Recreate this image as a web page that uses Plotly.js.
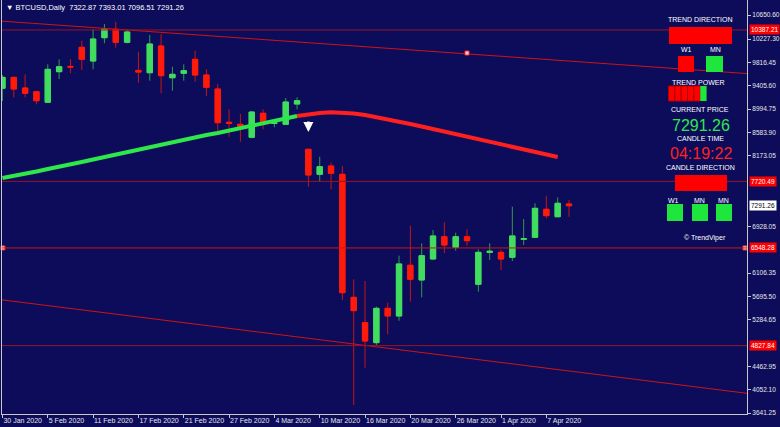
<!DOCTYPE html>
<html><head><meta charset="utf-8">
<script src="https://cdn.plot.ly/plotly-3.0.1.min.js"></script>
<style>html,body{margin:0;padding:0;background:#0c0c5a;}#chart{width:780px;height:427px;}</style>
</head><body><div id="chart"></div>
<script>
// ---- data ----
const dates = ["30 Jan 2020","31 Jan 2020","3 Feb 2020","4 Feb 2020","5 Feb 2020","6 Feb 2020","7 Feb 2020",
"10 Feb 2020","11 Feb 2020","12 Feb 2020","13 Feb 2020","14 Feb 2020","17 Feb 2020","18 Feb 2020","19 Feb 2020",
"20 Feb 2020","21 Feb 2020","24 Feb 2020","25 Feb 2020","26 Feb 2020","27 Feb 2020","28 Feb 2020","2 Mar 2020",
"3 Mar 2020","4 Mar 2020","5 Mar 2020","6 Mar 2020","9 Mar 2020","10 Mar 2020","11 Mar 2020","12 Mar 2020",
"13 Mar 2020","16 Mar 2020","17 Mar 2020","18 Mar 2020","19 Mar 2020","20 Mar 2020","23 Mar 2020","24 Mar 2020",
"25 Mar 2020","26 Mar 2020","27 Mar 2020","30 Mar 2020","31 Mar 2020","1 Apr 2020","2 Apr 2020","3 Apr 2020",
"6 Apr 2020","7 Apr 2020","8 Apr 2020","9 Apr 2020"];
const openP  = [9360,9553,9365,9300,9113,9652,9745,10082,9840,10251,10399,10170,9675,9634,10105,9546,9624,9870,9594,9347,8761,8726,8497,8920,8740,8726,9083,8286,7845,7991,7845,5679,5232,4880,5485,5350,6243,5984,6354,6746,6560,6746,5908,6470,6471,6384,6700,6736,7229,7098,7322.87];
const highP  = [9594,9560,9606,9312,9782,9870,9876,10198,10399,10492,10532,10399,10004,10298,10316,9740,9782,10022,9694,9436,8990,8907,8960,8990,8771,9189,9201,8290,8155,8050,7991,5996,5966,5514,5584,6412,6940,6630,6864,7000,6817,6882,6524,6630,6512,7275,7058,7335,7468,7440,7393.01];
const lowP   = [9136,9201,9201,9078,9110,9523,9624,9682,9694,10152,10075,10150,9458,9494,9272,9317,9494,9476,9224,8578,8507,8419,8480,8638,8673,8720,8990,7627,7715,7581,5632,3782,4439,4839,5027,5267,5602,5679,6336,6454,6500,6588,5778,6336,6160,6318,6600,6730,7070,7090,7096.51];
const closeP = [9553,9347,9272,9141,9694,9740,9735,9870,10228,10404,10170,10351,9645,10140,9582,9606,9670,9594,9377,8754,8745,8666,8942,8743,8752,9118,9141,7833,7979,7863,5760,5443,4909,5485,5350,6266,5996,6412,6759,6600,6746,6676,6471,6490,6354,6759,6712,7246,7116,7335,7291.26];
const maValues = [7780,7815,7850,7894,7938,7974,8018,8062,8106,8150,8194,8238,8282,8326,8370,8414,8458,8502,8537,8572,8617,8661,8705,8749,8793,8837,8872,8907,8925,8937,8934,8916,8890,8854,8819,8775,8731,8687,8643,8599,8555,8511,8467,8423,8379,8335,8282,8238,8194,8150];
const maTurn = 26;
const levelPrices = [10387.21, 7720.49, 6548.28, 4827.84];
const levelStrong = [false, false, true, false];
const channelX = [-0.04, 65.71];
const upperChannel = [10542, 9619];
const lowerChannel = [5634, 3988];
const yTickVals = [10650.60,10227.30,9816.45,9405.60,8994.75,8583.90,8173.05,6928.05,6106.35,5695.50,5284.65,4462.95,4052.10,3641.25];
const signalIndex = 27, signalPrice = 8590;
const markerX = [0.04, 65.53, 41.0];
const markerY = [6548.28, 6548.28, 9981];
const lastPrice = 7291.26;
const candleTimer = "04:19:22";

// ---- build ----
const idx = dates.map((d,i)=>i);
const tickIdx = idx.filter(i=>i%4===0);
const GREEN='#40dd60', RED='#ff1a0a', BG='#0c0c5a';
const bodyHigh = openP.map((o,i)=>Math.max(o,closeP[i]));
const bodyLow = openP.map((o,i)=>Math.min(o,closeP[i]));
const maIdx = maValues.map((v,i)=>i);

const traces = [
 {type:'scatter',mode:'lines',x:channelX,y:upperChannel,line:{color:'#d01414',width:1},hoverinfo:'skip'},
 {type:'scatter',mode:'lines',x:channelX,y:lowerChannel,line:{color:'#d01414',width:1},hoverinfo:'skip'},
 {type:'candlestick',x:idx,open:openP,high:highP,low:lowP,close:closeP,whiskerwidth:0,
  increasing:{line:{color:'#2f9a4c',width:1},fillcolor:GREEN},
  decreasing:{line:{color:'#c81414',width:1},fillcolor:RED},hoverinfo:'skip'},
 {type:'candlestick',x:idx,open:openP,high:bodyHigh,low:bodyLow,close:closeP,whiskerwidth:0,
  increasing:{line:{color:GREEN,width:1},fillcolor:GREEN},
  decreasing:{line:{color:RED,width:1},fillcolor:RED},hoverinfo:'skip'},
 {type:'scatter',mode:'lines',x:maIdx.slice(0,maTurn+1),y:maValues.slice(0,maTurn+1),line:{color:'#2ee84a',width:4},hoverinfo:'skip'},
 {type:'scatter',mode:'lines',x:maIdx.slice(maTurn),y:maValues.slice(maTurn),line:{color:'#ff1f1f',width:4},hoverinfo:'skip'},
 {type:'scatter',mode:'markers',x:markerX,y:markerY,cliponaxis:false,marker:{symbol:'square',size:4,color:'#ffd0d0',line:{color:'#ff3030',width:1}},hoverinfo:'skip'}
];

const P = x => (x-2)/745, Q = y => (414-y)/414;
const shapes = levelPrices.map((p,i)=>({type:'line',xref:'paper',x0:0,x1:1,yref:'y',y0:p,y1:p,
  line:{color:levelStrong[i]?'#c81818':'#9a1424',width:1}}));
function rect(x0,y0,x1,y1,c,lc){shapes.push({type:'rect',xref:'paper',yref:'paper',x0:P(x0),x1:P(x1),y0:Q(y1),y1:Q(y0),fillcolor:c,line:{color:lc||c,width:lc?1:0}});}
rect(669,27,732,44,'#ff0000');
rect(678,56,694,72,'#ff0000');
rect(706,56,723,72,'#1ee63c');
for(let k=0;k<6;k++){ rect(668.5+k*6.35,86,668.5+(k+1)*6.35,101,k<5?'#ff0000':'#1ee63c',k<5?'#b00000':null); }
rect(675,175,727,191,'#ff0000');
rect(667,204,683,221,'#1ee63c');
rect(692,204,708,221,'#1ee63c');
rect(716,204,732,221,'#1ee63c');

const F='Liberation Sans, Arial, sans-serif';
const ann = [];
function txt(x,y,t,size,color){ann.push({xref:'paper',yref:'paper',x:P(x),y:Q(y),text:t,showarrow:false,xanchor:'center',yanchor:'middle',font:{family:F,size:size,color:color}});}
txt(700,20,'TREND DIRECTION',7,'#ffffff');
txt(686,50,'W1',7,'#ffffff'); txt(715,50,'MN',7,'#ffffff');
txt(698,82,'TREND POWER',7,'#ffffff');
txt(700,110,'CURRENT PRICE',7,'#ffffff');
txt(701,125,lastPrice.toFixed(2),16,'#2ee84a');
txt(700,138,'CANDLE TIME',7,'#ffffff');
txt(701,153,candleTimer,16,'#ff2020');
txt(700,167,'CANDLE DIRECTION',7,'#ffffff');
txt(673,200,'W1',7,'#ffffff'); txt(699,200,'MN',7,'#ffffff'); txt(723,200,'MN',7,'#ffffff');
txt(705,238,'© TrendViper',7,'#ffffff');
ann.push({xref:'paper',yref:'paper',x:0,y:Q(8),xanchor:'left',yanchor:'middle',xshift:2,showarrow:false,
  text:'▼ BTCUSD,Daily  '+[openP,highP,lowP,closeP].map(a=>a[a.length-1].toFixed(2)).join(' '),font:{family:F,size:7.5,color:'#ffffff'}});
levelPrices.forEach(p=>ann.push({xref:'paper',yref:'y',x:1,y:p,xanchor:'left',yanchor:'middle',xshift:2,showarrow:false,
  text:p.toFixed(2),bgcolor:'#ff0000',borderpad:1,font:{family:F,size:6.5,color:'#ffffff'}}));
ann.push({xref:'paper',yref:'y',x:1,y:lastPrice,xanchor:'left',yanchor:'middle',xshift:2,showarrow:false,
  text:lastPrice.toFixed(2),bgcolor:'#ffffff',borderpad:1,font:{family:F,size:6.5,color:'#000000'}});
ann.push({xref:'x',yref:'y',x:signalIndex,y:signalPrice,ax:0,ay:-12,showarrow:true,arrowhead:2,arrowsize:0.8,arrowwidth:2.5,arrowcolor:'#ffffff',text:''});

const layout = {
 width:780,height:427,margin:{l:2,r:33,t:0,b:13},
 paper_bgcolor:BG,plot_bgcolor:BG,showlegend:false,boxgap:0.33,
 xaxis:{range:[-0.04,65.71],tickvals:tickIdx,ticktext:tickIdx.map(i=>dates[i]),ticks:'outside',ticklen:3,tickcolor:'#c8c8c8',
   tickangle:0,automargin:false,
   showline:true,linecolor:'#c8c8c8',linewidth:1,showgrid:false,zeroline:false,ticklabelposition:'outside right',
   tickfont:{family:F,size:7,color:'#e8e8e8'},rangeslider:{visible:false},fixedrange:true},
 yaxis:{side:'right',range:[3623.8,10914.8],tickvals:yTickVals,ticktext:yTickVals.map(v=>v.toFixed(2)),ticks:'outside',ticklen:3,
   tickcolor:'#c8c8c8',showline:true,mirror:true,linecolor:'#c8c8c8',linewidth:1,showgrid:false,zeroline:false,automargin:false,
   tickfont:{family:F,size:6.5,color:'#e8e8e8'},fixedrange:true},
 shapes:shapes,annotations:ann
};
Plotly.newPlot('chart',traces,layout,{displayModeBar:false,staticPlot:true});
</script></body></html>
